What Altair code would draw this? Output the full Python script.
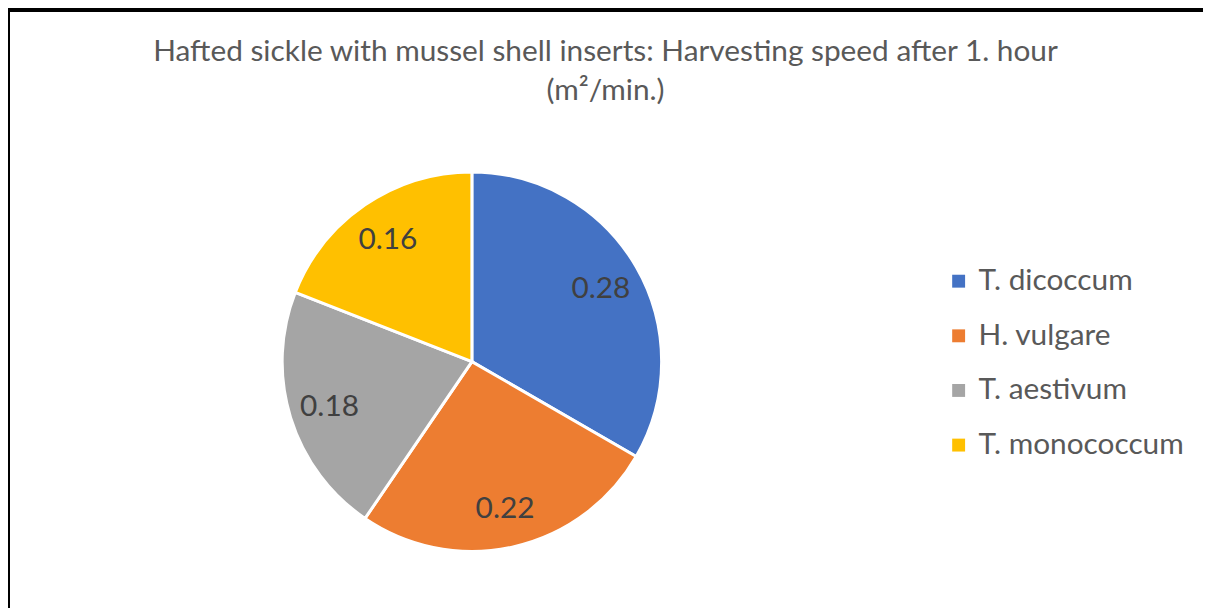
import altair as alt
import pandas as pd

categories = ["T. dicoccum", "H. vulgare", "T. aestivum", "T. monococcum"]
values = [0.28, 0.22, 0.18, 0.16]
colors = ["#4472C4", "#ED7D31", "#A5A5A5", "#FFC000"]
title_lines = ["Hafted sickle with mussel shell inserts: Harvesting speed after 1. hour", "(m²/min.)"]

df = pd.DataFrame({"species": categories, "speed": values, "idx": list(range(len(categories)))})

FONT = "Lato"
CX, CY, R = 467, 354, 191

color = alt.Color(
    "species:N",
    scale=alt.Scale(domain=categories, range=colors),
    legend=alt.Legend(
        title=None,
        orient="none",
        legendX=942,
        legendY=258,
        symbolType="square",
        symbolSize=169,
        symbolStrokeWidth=0,
        labelFontSize=30,
        labelFont=FONT,
        labelColor="#595959",
        labelOffset=5,
        rowPadding=25,
        labelLimit=400,
    ),
)

base = alt.Chart(df).encode(
    theta=alt.Theta("speed:Q", stack=True),
    order=alt.Order("idx:Q"),
)

pie = base.mark_arc(outerRadius=R, stroke="white", strokeWidth=3).encode(
    color=color,
    x=alt.value(CX),
    y=alt.value(CY),
)

labels = base.mark_text(radius=150, fontSize=30, font=FONT, color="#404040", dy=2).encode(
    text=alt.Text("speed:Q", format=".2f"),
    x=alt.value(CX),
    y=alt.value(CY),
)

frame_top = alt.Chart(df).mark_rule(color="black", strokeWidth=4).encode(
    x=alt.value(0), x2=alt.value(1203), y=alt.value(0)
)
frame_left = alt.Chart(df).mark_rule(color="black", strokeWidth=4).encode(
    x=alt.value(0), y=alt.value(0), y2=alt.value(602)
)

chart = alt.layer(frame_top, frame_left, pie, labels).properties(
    width=1203,
    height=602,
    autosize=alt.AutoSizeParams(type="none"),
    padding=0,
    title=alt.TitleParams(
        text=title_lines,
        anchor="middle",
        font=FONT,
        fontSize=30,
        fontWeight="normal",
        color="#595959",
        lineHeight=40,
        offset=0,
        dy=99,
    ),
).configure_view(stroke=None)

chart.save("out.html", embed_options={"renderer": "svg", "actions": False})
